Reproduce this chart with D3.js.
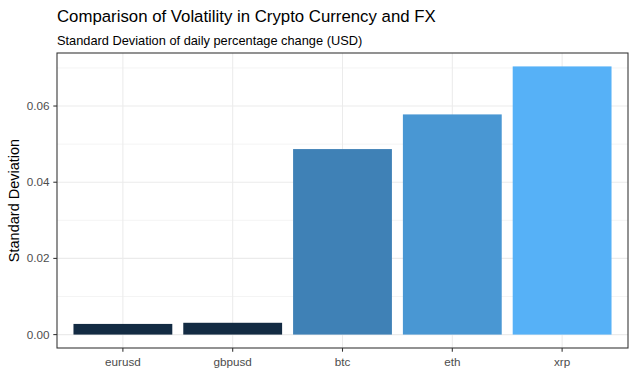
<!DOCTYPE html>
<html><head><meta charset="utf-8">
<script src="https://cdn.jsdelivr.net/npm/d3@7"></script>
<style>body{margin:0;background:#fff}svg{display:block;font-family:"Liberation Sans",Arial,sans-serif}</style>
</head><body><svg id="c" width="638" height="392"></svg>
<script>
const categories = ["eurusd","gbpusd","btc","eth","xrp"];
const values = [0.0028, 0.0031, 0.0487, 0.0578, 0.0704];
const yTicks = [0, 0.02, 0.04, 0.06];
const yMinor = [0.01, 0.03, 0.05, 0.07];
const fills = ["#132B43","#132B43","#3F81B6","#4997D3","#56B1F7"];

const svg = d3.select("#c");
const L = 57, R = 628, T = 53, B = 348;
const vmax = d3.max(values), pad = vmax*0.05;
const y = d3.scaleLinear().domain([-pad, vmax+pad]).range([B, T]);
// ggplot discrete scale: positions 1..n, expansion 0.6 each side, bar width 0.9
const x = d3.scaleLinear().domain([0.4, categories.length + 0.6]).range([L, R]);
const cx = d => x(categories.indexOf(d) + 1);
const bw = x(1.9) - x(1);

const g = svg.append("g");
g.selectAll(".ymin").data(yMinor).join("line")
  .attr("x1",L).attr("x2",R).attr("y1",d=>y(d)).attr("y2",d=>y(d))
  .attr("stroke","#EBEBEB").attr("stroke-width",0.55);
g.selectAll(".ymaj").data(yTicks).join("line")
  .attr("x1",L).attr("x2",R).attr("y1",d=>y(d)).attr("y2",d=>y(d))
  .attr("stroke","#EBEBEB").attr("stroke-width",1.07);
g.selectAll(".xmaj").data(categories).join("line")
  .attr("x1",d=>cx(d)).attr("x2",d=>cx(d)).attr("y1",T).attr("y2",B)
  .attr("stroke","#EBEBEB").attr("stroke-width",1.07);
g.selectAll("rect.bar").data(categories).join("rect").attr("class","bar")
  .attr("x",d=>cx(d)-bw/2).attr("width",bw)
  .attr("y",(d,i)=>y(values[i])).attr("height",(d,i)=>y(0)-y(values[i]))
  .attr("fill",(d,i)=>fills[i]);
svg.append("rect").attr("x",L).attr("y",T).attr("width",R-L).attr("height",B-T)
  .attr("fill","none").attr("stroke","#333333").attr("stroke-width",1.07);
svg.selectAll(".yt").data(yTicks).join("line")
  .attr("x1",L-3.7).attr("x2",L).attr("y1",d=>y(d)).attr("y2",d=>y(d))
  .attr("stroke","#333333").attr("stroke-width",1.07);
svg.selectAll(".yl").data(yTicks).join("text")
  .attr("x",L-7.5).attr("y",d=>y(d)).attr("dy","0.35em").attr("text-anchor","end")
  .attr("font-size",11.7).attr("fill","#4D4D4D").text(d=>d3.format(".2f")(d));
svg.selectAll(".xt").data(categories).join("line")
  .attr("x1",d=>cx(d)).attr("x2",d=>cx(d)).attr("y1",B).attr("y2",B+3.7)
  .attr("stroke","#333333").attr("stroke-width",1.07);
svg.selectAll(".xl").data(categories).join("text")
  .attr("x",d=>cx(d)).attr("y",B+9).attr("dy","0.75em").attr("text-anchor","middle")
  .attr("font-size",11.7).attr("fill","#4D4D4D").text(d=>d);
svg.append("text").attr("transform",`translate(19,${(T+B)/2}) rotate(-90)`)
  .attr("text-anchor","middle").attr("font-size",14.5).attr("fill","#000").text("Standard Deviation");
svg.append("text").attr("x",L).attr("y",21.5).attr("font-size",16.8).attr("fill","#000")
  .text("Comparison of Volatility in Crypto Currency and FX");
svg.append("text").attr("x",L).attr("y",45).attr("font-size",12.8).attr("fill","#000")
  .text("Standard Deviation of daily percentage change (USD)");
</script></body></html>
